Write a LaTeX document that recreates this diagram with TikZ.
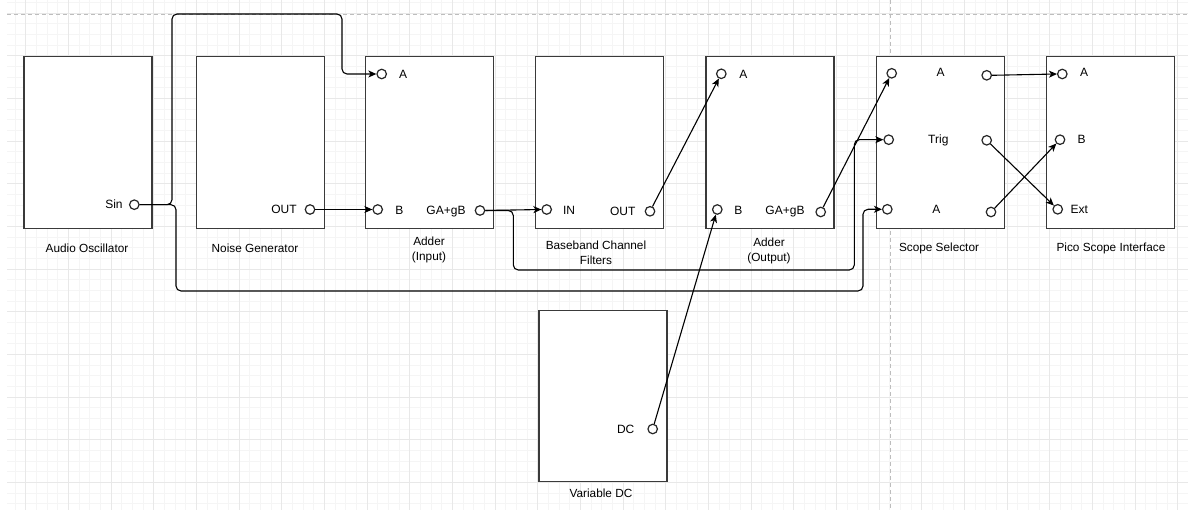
\documentclass[tikz,border=0pt]{standalone}
\usepackage{fontspec}
\setmainfont{Liberation Sans}
\usetikzlibrary{arrows.meta}
\definecolor{gminor}{HTML}{F5F5F5}
\definecolor{gmajor}{HTML}{E8E8E8}
\definecolor{pagedash}{HTML}{BDBDBD}
\definecolor{boxline}{HTML}{3A3A3A}
\tikzset{
  blk/.style={draw=boxline, line width=1.5pt, fill=white, inner sep=0pt, minimum width=128pt, minimum height=171.7pt, anchor=north west},
  port/.style={draw=black!85, circle, line width=1.2pt, fill=white, inner sep=0pt, minimum size=9.5pt},
  plab/.style={font=\fontsize{12}{14}\selectfont, inner sep=0pt},
  blab/.style={font=\fontsize{11.8}{15}\selectfont, align=center, inner sep=0pt},
  conn/.style={draw=black, line width=1.1pt, -{Stealth[length=8pt,width=7pt,inset=2.2pt]}},
  gminorl/.style={draw=gminor, line width=0.8pt},
  gmajorl/.style={draw=gmajor, line width=0.9pt},
  pagel/.style={draw=pagedash, line width=0.9pt, dash pattern=on 4pt off 3pt}
}
\begin{document}
\begin{tikzpicture}[x=1pt,y=-1pt]
\useasboundingbox (0,0) rectangle (1188,510);
\fill[white] (0,0) rectangle (1188,510);
% grid
\foreach \j in {1,...,111} {\draw[gminorl] ({4.36+10.6667*\j},0) -- ({4.36+10.6667*\j},510);}
\foreach \j in {0,...,47} {\draw[gminorl] (7,{2.33+10.6667*\j}) -- (1188,{2.33+10.6667*\j});}
\foreach \k in {0,...,27} {\draw[gmajorl] ({25.7+42.667*\k},0) -- ({25.7+42.667*\k},510);}
\foreach \k in {0,...,11} {\draw[gmajorl] (7,{13+42.667*\k}) -- (1188,{13+42.667*\k});}
\draw[pagel] (7,14) -- (1188,14);
\draw[pagel] (890,0) -- (890,510);

% blocks
\node[blk] (ao) at (23,56) {};
\node[blk] (ng) at (195.5,56) {};
\node[blk] (adi) at (364.5,56) {};
\node[blk] (bb) at (534.5,56) {};
\node[blk] (ado) at (705,56) {};
\node[blk] (ss) at (875.5,56) {};
\node[blk] (pico) at (1045.5,56) {};
\node[blk, minimum height=170.7pt] (vdc) at (538,310) {};

% block labels
\node[blab] (laol) at (87,248) {Audio Oscillator};
\node[blab] (lngl) at (255,248) {Noise Generator};
\node[blab] (ladi) at (429,249.5) {Adder\\(Input)};
\node[blab] (lbb) at (596,252.5) {Baseband Channel\\Filters};
\node[blab] (lado) at (769,250.5) {Adder\\(Output)};
\node[blab] (lss) at (939,248) {Scope Selector};
\node[blab] (lpico) at (1111,248) {Pico Scope Interface};
\node[blab] (lvdc) at (601,493) {Variable DC};

% ports
\node[port] (sin) at (134.3,204.7) {};
\node[plab] (lsin) at (114,204) {Sin};
\node[port] (ngout) at (310,209.5) {};
\node[plab] (lngout) at (284,209.5) {OUT};
\node[port] (adiA) at (381.7,74) {};
\node[plab] (ladiA) at (403,74) {A};
\node[port] (adiB) at (377.7,209.5) {};
\node[plab] (ladiB) at (399.3,210) {B};
\node[port] (adiG) at (480,210.5) {};
\node[plab] (ladiG) at (446,212) {GA+gB};
\node[port] (bbin) at (546.7,209.5) {};
\node[plab] (lbbin) at (569,210) {IN};
\node[port] (bbout) at (650,211.3) {};
\node[plab] (lbbout) at (622.7,211) {OUT};
\node[port] (adoA) at (721.3,73.8) {};
\node[plab] (ladoA) at (743.3,74) {A};
\node[port] (adoB) at (717.3,209.5) {};
\node[plab] (ladoB) at (738.3,210) {B};
\node[port] (adoG) at (820.7,212) {};
\node[plab] (ladoG) at (785,212) {GA+gB};
\node[port] (ssAin) at (891.7,73.3) {};
\node[plab] (lssA) at (940.7,72) {A};
\node[port] (ssAout) at (986.7,75.3) {};
\node[port] (ssTin) at (888.7,139.7) {};
\node[plab] (lssT) at (938.3,140) {Trig};
\node[port] (ssTout) at (986.7,140.3) {};
\node[port] (ssBin) at (887.3,209.3) {};
\node[plab] (lssB) at (936.3,209) {A};
\node[port] (ssBout) at (991,212) {};
\node[port] (pA) at (1062.3,74) {};
\node[plab] (lpA) at (1084,72.5) {A};
\node[port] (pB) at (1060,139.7) {};
\node[plab] (lpB) at (1081.7,139.7) {B};
\node[port] (pExt) at (1057.7,209.3) {};
\node[plab] (lpExt) at (1079.3,209.5) {Ext};
\node[port] (dc) at (652.7,429) {};
\node[plab] (ldc) at (625.7,429) {DC};

% connectors
\draw[conn, rounded corners=5pt] (sin.east) -- (172,204.7) -- (172,14) -- (342,14) -- (342,74) -- (adiA.west);
\draw[conn, rounded corners=5pt] (sin.east) -- (176,204.7) -- (176,291) -- (863,291) -- (863,209.3) -- (ssBin.west);
\draw[conn] (ngout.east) -- (adiB.west);
\draw[conn] (adiG.east) -- (bbin.west);
\draw[conn, rounded corners=5pt] (adiG.east) -- (513.3,210.5) -- (513.3,270) -- (854.3,270) -- (854.3,139.7) -- (ssTin.west);
\draw[conn] (bbout) -- (adoA);
\draw[conn] (dc) -- (adoB);
\draw[conn] (adoG) -- (ssAin);
\draw[conn] (ssAout.east) -- (pA.west);
\draw[conn] (ssTout) -- (pExt);
\draw[conn] (ssBout) -- (pB);
\end{tikzpicture}
\end{document}
